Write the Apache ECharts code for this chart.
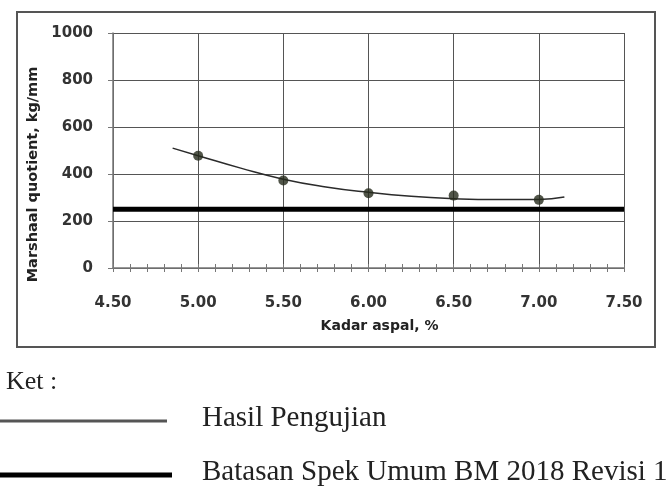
<!DOCTYPE html>
<html>
<head>
<meta charset="utf-8">
<script src="https://cdn.jsdelivr.net/npm/echarts@6/dist/echarts.min.js"></script>
<style>html,body{margin:0;padding:0;background:#fff}#c{width:668px;height:486px}</style>
</head>
<body>
<div id="c"></div>
<script>
// Data
const kadarAspal = [5.00, 5.50, 6.00, 6.50, 7.00];
const marshallQuotient = [478, 372, 318, 308, 290];
const trendX = [4.85, 5.00, 5.25, 5.50, 5.75, 6.00, 6.25, 6.50, 6.75, 7.00, 7.15];
const trendY = [510, 478, 425, 378, 345, 322, 305, 295, 291, 292, 302];
const batasX = [4.50, 7.50];
const batasY = [250, 250];
const xTicks = ['4.50', '5.00', '5.50', '6.00', '6.50', '7.00', '7.50'];
const yTicks = [0, 200, 400, 600, 800, 1000];
const legendItems = ['Hasil Pengujian', 'Batasan Spek Umum BM 2018 Revisi 1'];

const pts = kadarAspal.map((x, i) => [x, marshallQuotient[i]]);
const trend = trendX.map((x, i) => [x, trendY[i]]);
const batas = batasX.map((x, i) => [x, batasY[i]]);

const axisFont = 'DejaVu Sans';
const chart = echarts.init(document.getElementById('c'), null, {renderer: 'canvas'});
chart.setOption({
  backgroundColor: '#fff',
  animation: false,
  grid: {left: 113, right: 44, top: 33, bottom: 218},
  xAxis: [{
    type: 'value',
    min: 4.5, max: 7.5, interval: 0.5,
    name: 'Kadar aspal, %',
    nameLocation: 'middle',
    nameGap: 51,
    nameTextStyle: {fontFamily: axisFont, fontWeight: 'bold', fontSize: 14, color: '#222', padding: [0, 0, 0, 22]},
    axisLine: {show: true, lineStyle: {color: '#777', width: 1.5}},
    axisTick: {show: true, length: 4, lineStyle: {color: '#777'}},
    minorTick: {show: true, splitNumber: 5, length: 4, lineStyle: {color: '#777'}},
    axisLabel: {margin: 28, fontFamily: axisFont, fontWeight: 'bold', fontSize: 15, color: '#333',
      formatter: v => { const s = v.toFixed(2); return xTicks.indexOf(s) >= 0 ? s : ''; }},
    splitLine: {show: true, lineStyle: {color: '#555', width: 1}}
  }, {
    type: 'value',
    min: 4.5, max: 7.5, interval: 0.5,
    position: 'bottom',
    axisLine: {show: false},
    axisTick: {show: true, inside: true, length: 4, lineStyle: {color: '#777'}},
    minorTick: {show: true, splitNumber: 5, length: 4, lineStyle: {color: '#777'}},
    axisLabel: {show: false},
    splitLine: {show: false}
  }],
  yAxis: {
    type: 'value',
    min: 0, max: 1000, interval: 200,
    name: 'Marshaal quotient, kg/mm',
    nameLocation: 'middle',
    nameGap: 62,
    nameTextStyle: {fontFamily: axisFont, fontWeight: 'bold', fontSize: 14.5, color: '#222', padding: [0, 48, 0, 0]},
    axisLine: {show: true, lineStyle: {color: '#777', width: 1.5}},
    axisTick: {show: true, length: 5, lineStyle: {color: '#777'}},
    axisLabel: {margin: 20, fontFamily: axisFont, fontWeight: 'bold', fontSize: 15, color: '#333',
      formatter: v => yTicks.indexOf(v) >= 0 ? String(v) : ''},
    splitLine: {show: true, lineStyle: {color: '#555', width: 1}}
  },
  series: [
    {
      type: 'line', data: batas, showSymbol: false, symbol: 'none',
      lineStyle: {color: '#000', width: 5}, z: 3
    },
    {
      type: 'line', data: trend, smooth: true, showSymbol: false, symbol: 'none',
      lineStyle: {color: '#2b2b2b', width: 1.5}, z: 4
    },
    {
      type: 'scatter', data: pts, symbol: 'circle', symbolSize: 10,
      itemStyle: {color: '#262a1c'}, z: 5
    }
  ],
  graphic: [
    {type: 'rect', shape: {x: 17, y: 12, width: 638, height: 335},
      style: {fill: 'none', stroke: '#555', lineWidth: 2}, z: -1},
    {type: 'text', left: 6, top: 369, style: {text: 'Ket :', font: '26px "Liberation Serif"', fill: '#222'}},
    {type: 'line', shape: {x1: 0, y1: 421, x2: 167, y2: 421}, style: {stroke: '#555', lineWidth: 3}},
    {type: 'line', shape: {x1: 0, y1: 475, x2: 172, y2: 475}, style: {stroke: '#000', lineWidth: 5}},
    {type: 'text', left: 202, top: 404, style: {text: legendItems[0], font: '29px "Liberation Serif"', fill: '#222'}},
    {type: 'text', left: 202, top: 458, style: {text: legendItems[1], font: '29px "Liberation Serif"', fill: '#222'}}
  ]
});
</script>
</body>
</html>
